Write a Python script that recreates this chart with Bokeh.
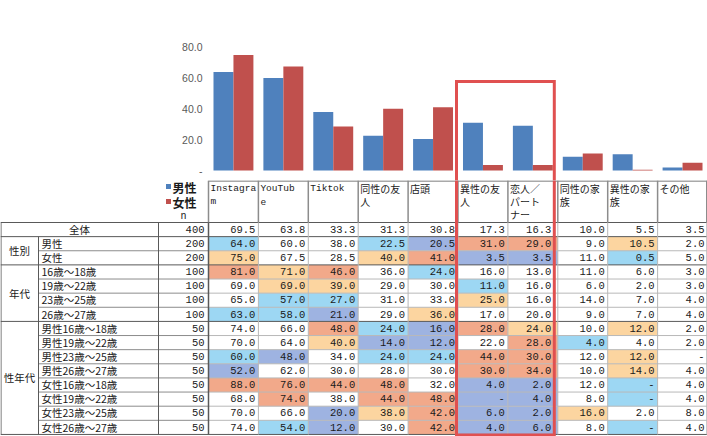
from bokeh.plotting import figure
from bokeh.layouts import column
from bokeh.models import Range1d, FixedTicker, NumeralTickFormatter
from bokeh.core.properties import value
from bokeh.embed import file_html
from bokeh.resources import INLINE

# ---------------- data ----------------
categories = ["Instagram", "YouTube", "Tiktok", "同性の友人", "店頭", "異性の友人",
              "恋人／パートナー", "同性の家族", "異性の家族", "その他"]
header_labels = ["Instagra\nm", "YouTub\ne", "Tiktok", "同性の友\n人", "店頭", "異性の友\n人",
                 "恋人／\nパート\nナー", "同性の家\n族", "異性の家\n族", "その他"]
highlight = ["異性の友人", "恋人／パートナー"]
series_names = ["男性", "女性"]
y_ticks = [0, 20, 40, 60, 80]

row_labels = ["全体", "男性", "女性", "16歳～18歳", "19歳～22歳", "23歳～25歳", "26歳～27歳",
              "男性16歳～18歳", "男性19歳～22歳", "男性23歳～25歳", "男性26歳～27歳",
              "女性16歳～18歳", "女性19歳～22歳", "女性23歳～25歳", "女性26歳～27歳"]
n_values = [400, 200, 200, 100, 100, 100, 100, 50, 50, 50, 50, 50, 50, 50, 50]
group_labels = ["性別", "年代", "性年代"]
group_first_row = [1, 3, 7]
group_last_row = [2, 6, 14]

table_values = [
    [69.5, 63.8, 33.3, 31.3, 30.8, 17.3, 16.3, 10.0, 5.5, 3.5],
    [64.0, 60.0, 38.0, 22.5, 20.5, 31.0, 29.0, 9.0, 10.5, 2.0],
    [75.0, 67.5, 28.5, 40.0, 41.0, 3.5, 3.5, 11.0, 0.5, 5.0],
    [81.0, 71.0, 46.0, 36.0, 24.0, 16.0, 13.0, 11.0, 6.0, 3.0],
    [69.0, 69.0, 39.0, 29.0, 30.0, 11.0, 16.0, 6.0, 2.0, 3.0],
    [65.0, 57.0, 27.0, 31.0, 33.0, 25.0, 16.0, 14.0, 7.0, 4.0],
    [63.0, 58.0, 21.0, 29.0, 36.0, 17.0, 20.0, 9.0, 7.0, 4.0],
    [74.0, 66.0, 48.0, 24.0, 16.0, 28.0, 24.0, 10.0, 12.0, 2.0],
    [70.0, 64.0, 40.0, 14.0, 12.0, 22.0, 28.0, 4.0, 4.0, 2.0],
    [60.0, 48.0, 34.0, 24.0, 24.0, 44.0, 30.0, 12.0, 12.0, 0.0],
    [52.0, 62.0, 30.0, 28.0, 30.0, 30.0, 34.0, 10.0, 14.0, 4.0],
    [88.0, 76.0, 44.0, 48.0, 32.0, 4.0, 2.0, 12.0, 0.0, 4.0],
    [68.0, 74.0, 38.0, 44.0, 48.0, 0.0, 4.0, 8.0, 0.0, 4.0],
    [70.0, 66.0, 20.0, 38.0, 42.0, 6.0, 2.0, 16.0, 2.0, 8.0],
    [74.0, 54.0, 12.0, 30.0, 42.0, 4.0, 6.0, 8.0, 0.0, 4.0],
]
# significance marks: H = much higher, h = higher, l = lower, L = much lower
marks = [
    "..........",
    "l..lLHH.h.",
    "h..hHLL.l.",
    "HhH.l.....",
    ".hh..l....",
    ".ll..h....",
    "llL.h.....",
    "..HlLHh.h.",
    "..hLL.Hl..",
    "lL.llHH.h.",
    "L....HH.h.",
    "HHHH.LL.l.",
    ".H.HHLL.l.",
    "..LhHLLh..",
    ".lL.HLL.l.",
]

male_values = table_values[1]
female_values = table_values[2]

# ---------------- styles / layout ----------------
W, H, TOP_H = 707, 436, 180
COL0, COLW = 208.0, 49.9
ROW0, ROWH = 222.0, 14.13
HEAD_TOP = 180.0
BLUE, RED = "#4F81BD", "#C0504D"
BOX_RED = "#E05050"
mark_colors = {"H": "#F2A98A", "h": "#FCD5A0", "l": "#9DD7F3", "L": "#9EB3E1"}
JP = value("Noto Sans CJK JP")
MONO = value("Liberation Mono")
TXT = "#1a1a1a"

ncol = len(categories)
nrow = len(row_labels)
hl_idx = [categories.index(h) for h in highlight]

# ---------------- top: bar chart ----------------
ZERO_Y, PPU = 170.0, 1.541
top = figure(width=W, height=TOP_H, output_backend="svg", toolbar_location=None,
             x_range=Range1d(-0.5, ncol - 0.5),
             y_range=Range1d(-(TOP_H - ZERO_Y) / PPU, ZERO_Y / PPU),
             x_axis_type=None, min_border_left=int(COL0), min_border_right=0,
             min_border_top=0, min_border_bottom=0, frame_align=False)
top.outline_line_color = None
top.grid.visible = False
top.background_fill_color = "white"
top.border_fill_color = "white"

idx = list(range(ncol))
top.vbar(x=[i - 0.2 for i in idx], top=male_values, width=0.4, bottom=0,
         fill_color=BLUE, line_color=None)
top.vbar(x=[i + 0.2 for i in idx], top=female_values, width=0.4, bottom=0,
         fill_color=RED, line_color=None)

ax = top.yaxis[0]
ax.ticker = FixedTicker(ticks=y_ticks)
ax.formatter = NumeralTickFormatter(format="0.0")
ax.major_label_overrides = {0: "-"}
ax.axis_line_color = None
ax.major_tick_line_color = None
ax.minor_tick_line_color = None
ax.major_tick_in = 0
ax.major_tick_out = 0
ax.major_label_standoff = 6
ax.major_label_text_font = "Liberation Sans"
ax.major_label_text_font_size = "10.5px"
ax.major_label_text_color = "#595959"

# red highlight box (top part)
bx0 = min(hl_idx) - 0.5 - 1.5 / COLW
bx1 = max(hl_idx) + 0.5 - 3.5 / COLW
box_top = (ZERO_Y - 81) / PPU
top.multi_line(xs=[[bx0, bx0, bx1, bx1]], ys=[[-30, box_top, box_top, -30]],
               line_color=BOX_RED, line_width=3, line_join="miter")

# ---------------- bottom: table ----------------
bot = figure(width=W, height=H - TOP_H, output_backend="svg", toolbar_location=None,
             x_range=Range1d(0, W), y_range=Range1d(H, TOP_H),
             x_axis_type=None, y_axis_type=None,
             min_border=0, min_border_left=0, min_border_right=0,
             min_border_top=0, min_border_bottom=0, frame_align=False)
bot.outline_line_color = None
bot.background_fill_color = "white"
bot.border_fill_color = "white"


def col_left(c):
    return COL0 + COLW * c


def row_top(r):
    return ROW0 + ROWH * r


def row_mid(r):
    return row_top(r) + ROWH / 2 - 0.3


px0 = col_left(min(hl_idx)) - 1.5
px1 = col_left(max(hl_idx) + 1) - 3.5

# colored cells
qx0, qx1, qy0, qy1, qc = [], [], [], [], []
for r, codes in enumerate(marks):
    for c, code in enumerate(codes):
        if code in mark_colors:
            qx0.append(col_left(c)); qx1.append(col_left(c + 1))
            qy0.append(row_top(r)); qy1.append(row_top(r + 1))
            qc.append(mark_colors[code])
bot.quad(left=qx0, right=qx1, top=qy0, bottom=qy1, fill_color=qc, line_color=None)

# grid lines
sx0, sy0, sx1, sy1, scol, sw = [], [], [], [], [], []


def seg(x0, y0, x1, y1, color, w):
    sx0.append(x0); sy0.append(y0); sx1.append(x1); sy1.append(y1)
    scol.append(color); sw.append(w)


DARK, MID, LIGHT = "#595959", "#8c8c8c", "#b8b8b8"
TABLE_BOTTOM = row_top(nrow)
seg(COL0, HEAD_TOP + 0.5, W, HEAD_TOP + 0.5, MID, 1.5)
group_ends = set(group_last_row) | {0}
for r in range(nrow + 1):
    y = row_top(r)
    if r == 0 or (r - 1) in group_ends:
        seg(0, y, W, y, DARK, 1)
    else:
        seg(38, y, COL0, y, MID, 1)
        seg(COL0, y, W, y, LIGHT, 1)
seg(0.5, ROW0, 0.5, TABLE_BOTTOM, DARK, 1)
seg(38, row_top(1), 38, TABLE_BOTTOM, DARK, 1)
seg(158, ROW0, 158, TABLE_BOTTOM, DARK, 1)
for c in range(ncol + 1):
    x = min(col_left(c), W - 0.75)
    seg(x, HEAD_TOP, x, ROW0, MID, 1.5)
    seg(x, ROW0, x, TABLE_BOTTOM, DARK if c == 0 else LIGHT, 1.5 if c == 0 else 1)
bot.segment(x0=sx0, y0=sy0, x1=sx1, y1=sy1, line_color=scol, line_width=sw)

# numbers
tx, ty, tt = [], [], []
for r, vals in enumerate(table_values):
    for c, v in enumerate(vals):
        xr = col_left(c + 1) - 3
        if c == max(hl_idx):
            xr = px1 - 3
        tx.append(xr)
        ty.append(row_mid(r))
        tt.append("-" if v == 0 else f"{v:.1f}")
for r, n in enumerate(n_values):
    tx.append(COL0 - 4)
    ty.append(row_mid(r))
    tt.append(str(n))
bot.text(x=tx, y=ty, text=tt, text_align="right", text_baseline="middle",
         text_font=MONO, text_font_size="10.5px", text_color=TXT)

# row labels
bot.text(x=[79], y=[row_mid(0)], text=[row_labels[0]], text_align="center",
         text_baseline="middle", text_font=JP, text_font_size="10.5px", text_color=TXT)
bot.text(x=[41] * (nrow - 1), y=[row_mid(r) for r in range(1, nrow)],
         text=row_labels[1:], text_align="left", text_baseline="middle",
         text_font=JP, text_font_size="10.5px", text_color=TXT)
bot.text(x=[19] * len(group_labels),
         y=[(row_top(a) + row_top(b + 1)) / 2 for a, b in zip(group_first_row, group_last_row)],
         text=group_labels, text_align="center", text_baseline="middle",
         text_font=JP, text_font_size="10.5px", text_color=TXT)

# column headers
hx, hy, ht, hxl, hyl, htl = [], [], [], [], [], []
for c, lab in enumerate(header_labels):
    for k, line in enumerate(lab.split("\n")):
        if all(ord(ch) < 128 for ch in line):
            hxl.append(col_left(c) + 2); hyl.append(188 + 13 * k); htl.append(line)
        else:
            hx.append(col_left(c) + 2); hy.append(188 + 13 * k); ht.append(line)
bot.text(x=hx, y=hy, text=ht, text_align="left", text_baseline="middle",
         text_font=JP, text_font_size="10px", text_color=TXT)
bot.text(x=hxl, y=hyl, text=htl, text_align="left", text_baseline="middle",
         text_font=MONO, text_font_size="9.5px", text_color=TXT)

# legend in header
bot.rect(x=[168, 168], y=[186, 201], width=5, height=5, fill_color=[BLUE, RED], line_color=None)
bot.text(x=[172, 172], y=[187, 202], text=series_names, text_align="left",
         text_baseline="middle", text_font=JP, text_font_size="12px",
         text_font_style="bold", text_color=TXT)
bot.text(x=[183], y=[216], text=["n"], text_align="center", text_baseline="middle",
         text_font=MONO, text_font_size="10px", text_color=TXT)

# red highlight box (table part)
pyb = TABLE_BOTTOM + 0.5
bot.multi_line(xs=[[px0, px0, px1, px1]], ys=[[TOP_H - 10, pyb, pyb, TOP_H - 10]],
               line_color=BOX_RED, line_width=3, line_join="miter")

layout = column(top, bot, spacing=0)
open("out.html", "w").write(file_html(layout, INLINE))
